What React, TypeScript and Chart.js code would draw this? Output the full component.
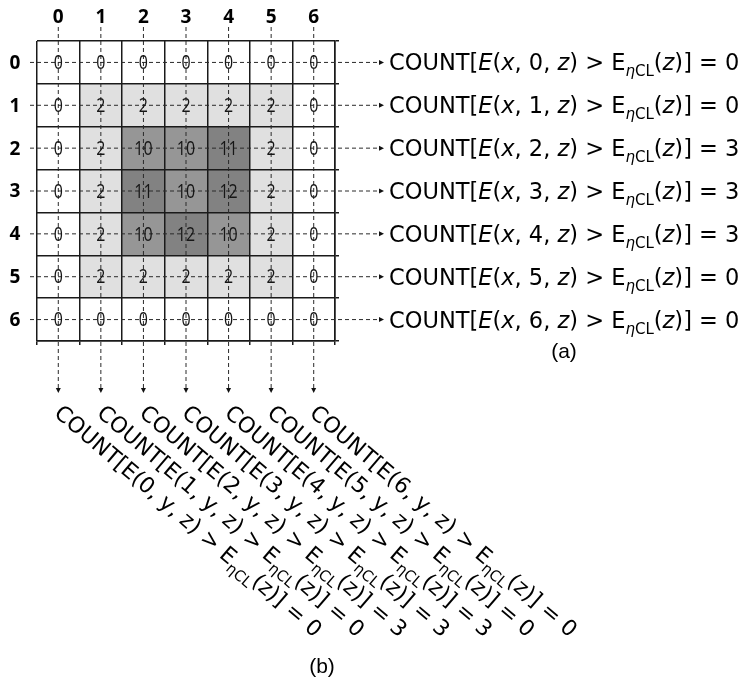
import React, { useEffect, useRef } from 'react';
import { Chart, registerables } from 'chart.js';

Chart.register(...registerables);

const COLUMNS = ['0', '1', '2', '3', '4', '5', '6'];
const ROWS = ['0', '1', '2', '3', '4', '5', '6'];
const ROW_0 = [0, 0, 0, 0, 0, 0, 0];
const ROW_1 = [0, 2, 2, 2, 2, 2, 0];
const ROW_2 = [0, 2, 10, 10, 11, 2, 0];
const ROW_3 = [0, 2, 11, 10, 12, 2, 0];
const ROW_4 = [0, 2, 10, 12, 10, 2, 0];
const ROW_5 = [0, 2, 2, 2, 2, 2, 0];
const ROW_6 = [0, 0, 0, 0, 0, 0, 0];
const CELLS = [ROW_0, ROW_1, ROW_2, ROW_3, ROW_4, ROW_5, ROW_6];
const ROW_COUNTS = [0, 0, 3, 3, 3, 0, 0];
const COL_COUNTS = [0, 0, 3, 3, 3, 0, 0];
const LABEL_A = '(a)';
const LABEL_B = '(b)';

const FONT = '"DejaVu Sans"';

function cellColor(v: number): string {
  if (v >= 11) return '#828282';
  if (v >= 10) return '#969696';
  if (v >= 2) return '#e0e0e0';
  return '#ffffff';
}

type Seg = { t: string; it?: boolean; sub?: boolean };

function drawRich(ctx: CanvasRenderingContext2D, segs: Seg[], x: number, y: number, size: number) {
  let cx = x;
  for (const s of segs) {
    const sz = s.sub ? Math.round(size * 0.68) : size;
    ctx.font = `${s.it ? 'italic ' : ''}${sz}px ${FONT}`;
    ctx.fillText(s.t, cx, y + (s.sub ? 6 : 0));
    cx += ctx.measureText(s.t).width;
  }
}

function dashedArrow(ctx: CanvasRenderingContext2D, x1: number, y1: number, x2: number, y2: number) {
  const ang = Math.atan2(y2 - y1, x2 - x1);
  const head = 5;
  const ex = x2 - Math.cos(ang) * head;
  const ey = y2 - Math.sin(ang) * head;
  ctx.save();
  ctx.strokeStyle = '#2a2a2a';
  ctx.lineWidth = 1;
  ctx.setLineDash([4, 3]);
  ctx.beginPath();
  ctx.moveTo(x1, y1);
  ctx.lineTo(ex, ey);
  ctx.stroke();
  ctx.setLineDash([]);
  ctx.fillStyle = '#111';
  ctx.beginPath();
  ctx.moveTo(x2, y2);
  ctx.lineTo(ex - Math.sin(ang) * 2.5, ey + Math.cos(ang) * 2.5);
  ctx.lineTo(ex + Math.sin(ang) * 2.5, ey - Math.cos(ang) * 2.5);
  ctx.closePath();
  ctx.fill();
  ctx.restore();
}

const annotate = {
  id: 'annotate',
  afterDraw(chart: any) {
    const ctx: CanvasRenderingContext2D = chart.ctx;
    const xs = chart.scales.x;
    const ys = chart.scales.y;
    const area = chart.chartArea;
    const colX = (i: number) => xs.getPixelForValue(i);
    const rowY = (j: number) => ys.getPixelForValue(j + 0.5);
    ctx.save();

    // dashed guide lines with arrows
    ROWS.forEach((_, j) => {
      dashedArrow(ctx, area.left - 7, rowY(j), area.right + 49, rowY(j));
    });
    COLUMNS.forEach((_, i) => {
      dashedArrow(ctx, colX(i), area.top - 14, colX(i), area.bottom + 52);
    });

    // cell values (narrow digits)
    ctx.fillStyle = '#161616';
    ctx.textAlign = 'center';
    ctx.textBaseline = 'middle';
    ctx.font = `20px "Open Sans"`;
    CELLS.forEach((row, j) => {
      row.forEach((v, i) => {
        ctx.save();
        ctx.translate(colX(i), rowY(j) + 1);
        ctx.scale(0.8, 1);
        ctx.fillText(String(v), 0, 0);
        ctx.restore();
      });
    });

    // headers
    ctx.fillStyle = '#000';
    ctx.font = `bold 19px "Open Sans"`;
    COLUMNS.forEach((c, i) => ctx.fillText(c, colX(i), area.top - 23));
    ROWS.forEach((r, j) => ctx.fillText(r, area.left - 22, rowY(j) + 1));

    // row count texts
    ctx.textAlign = 'left';
    ctx.textBaseline = 'alphabetic';
    ROWS.forEach((r, j) => {
      const segs: Seg[] = [
        { t: 'COUNT[' }, { t: 'E', it: true }, { t: '(' }, { t: 'x', it: true },
        { t: `, ${r}, ` }, { t: 'z', it: true }, { t: ') > E' }, { t: 'η', sub: true, it: true },
        { t: 'CL', sub: true }, { t: '(' }, { t: 'z', it: true }, { t: `)] = ${ROW_COUNTS[j]}` },
      ];
      drawRich(ctx, segs, area.right + 54, rowY(j) + 8, 22.5);
    });

    // column count texts (rotated)
    COLUMNS.forEach((c, i) => {
      ctx.save();
      ctx.translate(colX(i), area.bottom + 68);
      ctx.rotate((40.5 * Math.PI) / 180);
      const segs: Seg[] = [
        { t: `COUNT[E(${c}, y, z) > E` }, { t: 'ηCL', sub: true }, { t: `(z)] = ${COL_COUNTS[i]}` },
      ];
      drawRich(ctx, segs, 0, 8, 22);
      ctx.restore();
    });

    // panel labels
    ctx.textAlign = 'center';
    ctx.textBaseline = 'middle';
    ctx.font = `21px "Liberation Sans"`;
    ctx.fillText(LABEL_A, area.right + 229, area.bottom + 11);
    ctx.fillText(LABEL_B, area.left + 285, area.bottom + 326);
    ctx.restore();
  },
};

export default function App() {
  const ref = useRef<HTMLCanvasElement | null>(null);
  useEffect(() => {
    document.body.style.margin = '0';
    const canvas = ref.current;
    if (!canvas) return;
    const chart = new Chart(canvas, {
      type: 'bar',
      data: {
        labels: COLUMNS,
        datasets: ROWS.map((r, j) => ({
          label: 'row ' + r,
          data: COLUMNS.map(() => 1),
          backgroundColor: CELLS[j].map(cellColor),
          borderWidth: 0,
          barPercentage: 1,
          categoryPercentage: 1,
          stack: 'grid',
        })),
      },
      options: {
        responsive: false,
        animation: false,
        devicePixelRatio: 1,
        layout: { padding: { left: 37, top: 41, right: 401, bottom: 336 } },
        plugins: { legend: { display: false }, tooltip: { enabled: false } },
        scales: {
          x: {
            type: 'category',
            position: 'bottom',
            stacked: true,
            offset: true,
            ticks: { display: false },
            grid: { offset: true, color: '#1a1a1a', lineWidth: 1.5, tickLength: 4, drawTicks: true, z: 1 },
            border: { display: true, color: '#1a1a1a', width: 1.5, z: 1 },
          },
          y: {
            type: 'linear',
            position: 'right',
            stacked: true,
            min: 0,
            max: 7,
            reverse: true,
            ticks: { display: false, stepSize: 1 },
            grid: { color: '#1a1a1a', lineWidth: 1.5, tickLength: 4, drawTicks: true, z: 1 },
            border: { display: true, color: '#1a1a1a', width: 1.5, z: 1 },
          },
        },
      },
      plugins: [annotate],
    } as any);
    return () => chart.destroy();
  }, []);
  return <canvas ref={ref} width={740} height={681} style={{ display: 'block' }} />;
}
